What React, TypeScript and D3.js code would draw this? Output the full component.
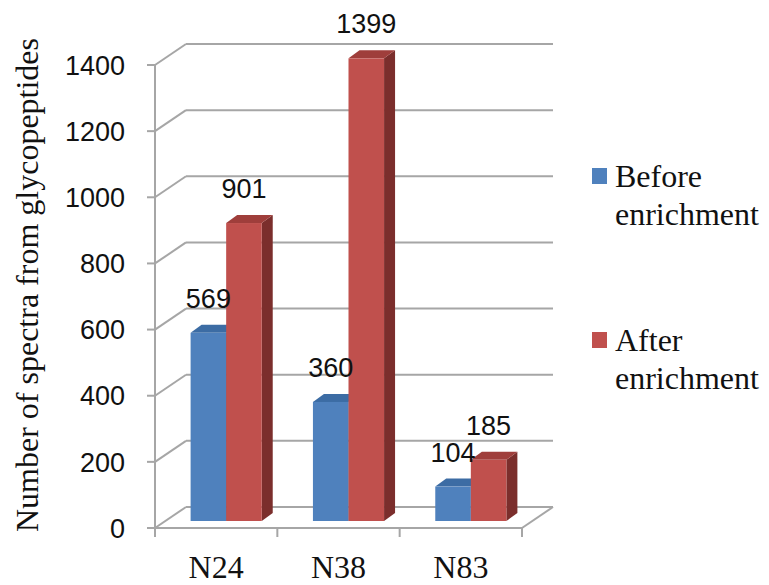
import * as d3 from "d3";
import React from "react";

const categories = ["N24", "N38", "N83"];
const seriesNames = ["Before enrichment", "After enrichment"];
const beforeValues = [569, 360, 104];
const afterValues = [901, 1399, 185];
const yTickValues = [0, 200, 400, 600, 800, 1000, 1200, 1400];

const W = 769;
const H = 585;

// front plane of the plot box
const left = 155;
const right = 522;
const bottom = 528;
const top = 65;

// depth offsets (oblique 3d look)
const wall = { dx: 31, dy: -21 };
const barShift = { dx: 10, dy: -7 };
const barDepth = { dx: 11, dy: -8 };

const grid = "#a6a6a6";
const fronts = ["#4f81bd", "#c0504d"];
const tops = ["#3c6ca4", "#9f3e3b"];
const sides = ["#34598a", "#7b2e2c"];

const numFont = "Liberation Sans, Arial, sans-serif";
const serif = "Liberation Serif, Times New Roman, DejaVu Serif, Noto Serif, serif";

export default function App() {
  const y = d3.scaleLinear().domain([0, 1400]).range([bottom, top]);
  const x0 = d3.scaleBand<string>().domain(categories).range([left, right]);
  const x1 = d3
    .scaleBand<string>()
    .domain(seriesNames)
    .range([0, x0.bandwidth()])
    .paddingInner(0)
    .paddingOuter(0.72);

  const values = [beforeValues, afterValues];
  const bw = x1.bandwidth();

  const bars: any[] = [];
  categories.forEach((c, i) => {
    seriesNames.forEach((s, j) => {
      const v = values[j][i];
      const bx = (x0(c) as number) + (x1(s) as number) + barShift.dx;
      const by = y(v) + barShift.dy;
      const b0 = y(0) + barShift.dy;
      bars.push({ key: c + s, j, v, bx, by, b0 });
    });
  });

  const boundaries = [...categories.map((c) => x0(c) as number), right];
  const pts = (p: number[][]) => p.map((q) => q.join(",")).join(" ");

  return (
    <svg
      width={W}
      height={H}
      style={{ position: "absolute", left: 0, top: 0, background: "#fff" }}
    >
      {/* walls and gridlines */}
      <g stroke={grid} strokeWidth={2} fill="none">
        {yTickValues.map((t) => (
          <g key={t}>
            <line x1={left} y1={y(t)} x2={left + wall.dx} y2={y(t) + wall.dy} />
            <line
              x1={left + wall.dx}
              y1={y(t) + wall.dy}
              x2={right + wall.dx}
              y2={y(t) + wall.dy}
            />
            <line x1={left - 8} y1={y(t)} x2={left} y2={y(t)} />
          </g>
        ))}
        <line x1={left} y1={top} x2={left} y2={bottom} />
        <line x1={left} y1={bottom} x2={right} y2={bottom} />
        <line x1={right} y1={bottom} x2={right + wall.dx} y2={bottom + wall.dy} />
        {boundaries.map((b) => (
          <line key={b} x1={b} y1={bottom} x2={b} y2={bottom + 9} />
        ))}
      </g>

      {/* bars */}
      {bars.map((d) => {
        const { bx, by, b0, j } = d;
        const topPts = [
          [bx, by],
          [bx + bw, by],
          [bx + bw + barDepth.dx, by + barDepth.dy],
          [bx + barDepth.dx, by + barDepth.dy],
        ];
        const sidePts = [
          [bx + bw, by],
          [bx + bw + barDepth.dx, by + barDepth.dy],
          [bx + bw + barDepth.dx, b0 + barDepth.dy],
          [bx + bw, b0],
        ];
        return (
          <g key={d.key}>
            <polygon points={pts(sidePts)} fill={sides[j]} />
            <polygon points={pts(topPts)} fill={tops[j]} />
            <rect x={bx} y={by} width={bw} height={b0 - by} fill={fronts[j]} />
          </g>
        );
      })}

      {/* data labels */}
      <g style={{ fontFamily: numFont, fontSize: 27 }} fill="#111" textAnchor="middle">
        {bars.map((d) => (
          <text key={d.key} x={d.bx + bw / 2} y={d.by - 25}>
            {d.v}
          </text>
        ))}
      </g>

      {/* y tick labels */}
      <g style={{ fontFamily: numFont, fontSize: 27 }} fill="#111" textAnchor="end">
        {yTickValues.map((t) => (
          <text key={t} x={125} y={y(t)} dy="0.36em">
            {t}
          </text>
        ))}
      </g>

      {/* category labels */}
      <g style={{ fontFamily: serif, fontSize: 32 }} fill="#111" textAnchor="middle">
        {categories.map((c) => (
          <text key={c} x={(x0(c) as number) + x0.bandwidth() / 2} y={578}>
            {c}
          </text>
        ))}
      </g>

      {/* axis title */}
      <text
        transform="translate(38,285) rotate(-90)"
        textAnchor="middle"
        style={{ fontFamily: serif, fontSize: 32 }}
        fill="#111"
      >
        Number of spectra from glycopeptides
      </text>

      {/* legend */}
      <g style={{ fontFamily: serif, fontSize: 32 }} fill="#111">
        {seriesNames.map((s, j) => {
          const ly = j === 0 ? 168 : 332;
          const [w1, w2] = s.split(" ");
          return (
            <g key={s}>
              <rect x={592} y={ly} width={15} height={16} fill={fronts[j]} />
              <text x={615} y={ly + 19}>{w1}</text>
              <text x={615} y={ly + 57}>{w2}</text>
            </g>
          );
        })}
      </g>
    </svg>
  );
}
